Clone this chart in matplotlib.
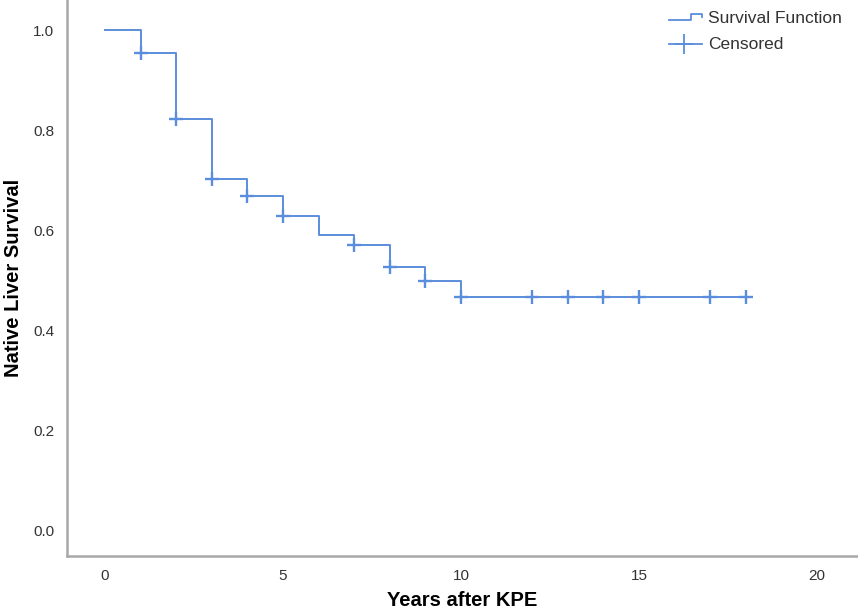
import numpy as np
import matplotlib
matplotlib.use('Agg')
import matplotlib.pyplot as plt
from matplotlib.legend_handler import HandlerBase
from matplotlib.lines import Line2D

plt.rcParams['font.family'] = ['Liberation Sans', 'DejaVu Sans']

# Kaplan-Meier curve
step_years = [0, 1, 2, 3, 4, 5, 6, 7, 8, 9, 10]
survival = [1.0, 0.955, 0.823, 0.703, 0.668, 0.629, 0.590, 0.571, 0.527, 0.499, 0.467]
last_year = 18
censored_years = [1, 2, 3, 4, 5, 7, 8, 9, 10, 12, 13, 14, 15, 17, 18]

x_ticks = [0, 5, 10, 15, 20]
y_ticks = [0.0, 0.2, 0.4, 0.6, 0.8, 1.0]

BLUE = '#5a8ddc'
GREY = '#a8a8a8'


class StepHandler(HandlerBase):
    # little step icon like the SPSS legend
    def create_artists(self, legend, orig_handle, xdescent, ydescent,
                       width, height, fontsize, trans):
        x0 = -xdescent
        lo = -ydescent + height * 0.3
        hi = -ydescent + height * 0.72
        xs = [x0, x0 + width * 0.68, x0 + width * 0.68, x0 + width, x0 + width]
        ys = [lo, lo, hi, hi, hi - height * 0.2]
        ln = Line2D(xs, ys, color=BLUE, lw=1.3, transform=trans)
        return [ln]


class CrossHandler(HandlerBase):
    def create_artists(self, legend, orig_handle, xdescent, ydescent,
                       width, height, fontsize, trans):
        x0 = -xdescent
        yc = -ydescent + height * 0.4
        ln = Line2D([x0, x0 + width], [yc, yc], color=BLUE, lw=1.3, transform=trans)
        mk = Line2D([x0 + width * 0.45], [yc], marker='+', ms=14, mew=1.3,
                    color=BLUE, lw=0, transform=trans)
        return [ln, mk]


fig = plt.figure(figsize=(8.58, 6.10), dpi=100)
ax = fig.add_axes([67 / 858, 54 / 610, 1 - 67 / 858, 1 - 54 / 610])

xs = list(step_years) + [last_year]
ys = list(survival) + [survival[-1]]
ax.step(xs, ys, where='post', color=BLUE, lw=1.4)

# censored marks sit on the curve
idx = np.searchsorted(step_years, censored_years, side='right') - 1
cens_y = np.array(survival)[idx]
ax.plot(censored_years, cens_y, ls='none', marker='+', ms=10, mew=1.7, color=BLUE)

ax.set_xlim(-1.07, 21.15)
ax.set_ylim(-0.052, 1.06)
ax.set_xticks(x_ticks)
ax.set_yticks(y_ticks)
ax.set_yticklabels([f'{v:.1f}' for v in y_ticks])
ax.tick_params(length=0, labelsize=11, colors='#333333', pad=9)

for side in ['top', 'right']:
    ax.spines[side].set_visible(False)
for side in ['left', 'bottom']:
    ax.spines[side].set_color(GREY)
    ax.spines[side].set_linewidth(1.8)

ax.set_xlabel('Years after KPE', fontsize=14.5, fontweight='bold', va='center')
ax.set_ylabel('Native Liver Survival', fontsize=14.5, fontweight='bold', va='center')
ax.xaxis.set_label_coords(0.5, -44 / 556)
ax.yaxis.set_label_coords(-53 / 791, 0.5)

h_surv = object()
h_cens = object()
fig.legend([h_surv, h_cens], ['Survival Function', 'Censored'],
           handler_map={h_surv: StepHandler(), h_cens: CrossHandler()},
           loc='upper left', bbox_to_anchor=(669 / 858, 1 - 11 / 610),
           bbox_transform=fig.transFigure, frameon=False, fontsize=12.5,
           borderpad=0, borderaxespad=0, handlelength=1.9, handletextpad=0.35,
           labelspacing=0.62, labelcolor='#333333')

fig.savefig('out.png', dpi=100)
